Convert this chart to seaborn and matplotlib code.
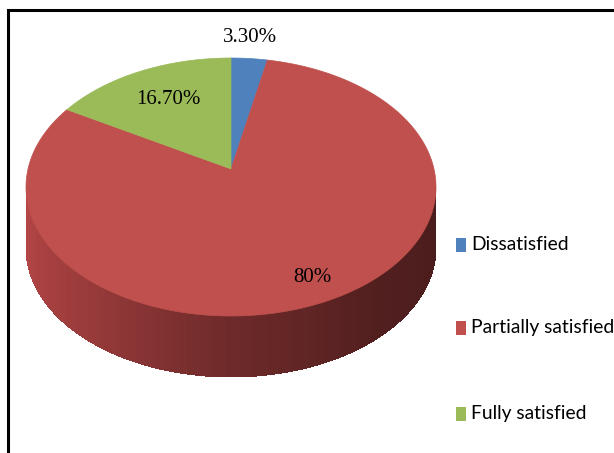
"""
Satisfação dos usuários - gráfico de pizza 3D (estilo Excel)
"""
import numpy as np
import matplotlib.pyplot as plt
from matplotlib.patches import Polygon, Rectangle
import seaborn as sns

# Dados
categorias = ['Dissatisfied', 'Partially satisfied', 'Fully satisfied']
percentuais = [3.3, 80.0, 16.7]
rotulos = ['3.30%', '80%', '16.70%']
cores = ['#4F81BD', '#C0504D', '#9BBB59']

sns.set_style('white')

# geometria da pizza (em pixels, eixo y para baixo)
cx, cy = 231, 187      # centro da elipse
a, b = 205, 129        # semi-eixos
v0 = 0.14              # deslocamento do centro das fatias (perspectiva)
prof = 61              # espessura lateral


def ponto_borda(phi):
    # raio saindo do centro deslocado até a borda do círculo unitário
    d = np.array([np.cos(phi), np.sin(phi)])
    c = np.array([0.0, v0])
    cd = c @ d
    s = -cd + np.sqrt(cd ** 2 - c @ c + 1)
    u, v = c + s * d
    return cx + a * u, cy - b * v


fig = plt.figure(figsize=(6.14, 4.53), dpi=100)
ax = fig.add_axes([0, 0, 1, 1])
ax.set_xlim(0, 614)
ax.set_ylim(453, 0)
ax.axis('off')

# lateral (só a metade da frente aparece, toda vermelha)
n = 160
t = np.linspace(np.pi, 2 * np.pi, n + 1)
grad = sns.blend_palette(['#b84848', '#9a3b3b', '#6e2a2a', '#521f1f', '#4a1c1c'], n)
for i in range(n):
    xs = cx + a * np.cos(t[i:i + 2])
    ys = cy - b * np.sin(t[i:i + 2])
    pts = [(xs[0], ys[0]), (xs[1], ys[1]), (xs[1], ys[1] + prof), (xs[0], ys[0] + prof)]
    ax.add_patch(Polygon(pts, closed=True, facecolor=grad[i], edgecolor='none',
                         antialiased=False))

# face de cima
inicio = np.pi / 2
centro = (cx, cy - b * v0)
for pct, cor in zip(percentuais, cores):
    fim = inicio - 2 * np.pi * pct / 100
    angs = np.linspace(inicio, fim, 200)
    pts = [centro] + [ponto_borda(p) for p in angs]
    ax.add_patch(Polygon(pts, closed=True, facecolor=cor, edgecolor=cor, lw=0.5))
    inicio = fim

# rótulos de porcentagem
pos_rotulos = [(250, 38), (312, 278), (168, 100)]
for txt, (x, y) in zip(rotulos, pos_rotulos):
    ax.text(x, y, txt, ha='center', va='center', fontsize=15,
            family=['Liberation Serif', 'DejaVu Serif'], color='black')

# legenda
leg_y = [245, 328, 414]
for cat, cor, y in zip(categorias, cores, leg_y):
    ax.add_patch(Rectangle((456, y - 7), 10, 14, facecolor=cor, edgecolor='none'))
    ax.text(471, y, cat, ha='left', va='center', fontsize=13.9,
            family=['Lato', 'DejaVu Sans'], color='black')

# moldura (só borda superior e esquerda aparecem)
ax.plot([8, 8, 620], [460, 10, 10], color='black', lw=2.2, solid_joinstyle='miter')

fig.savefig('out.png', dpi=100)
plt.close(fig)
